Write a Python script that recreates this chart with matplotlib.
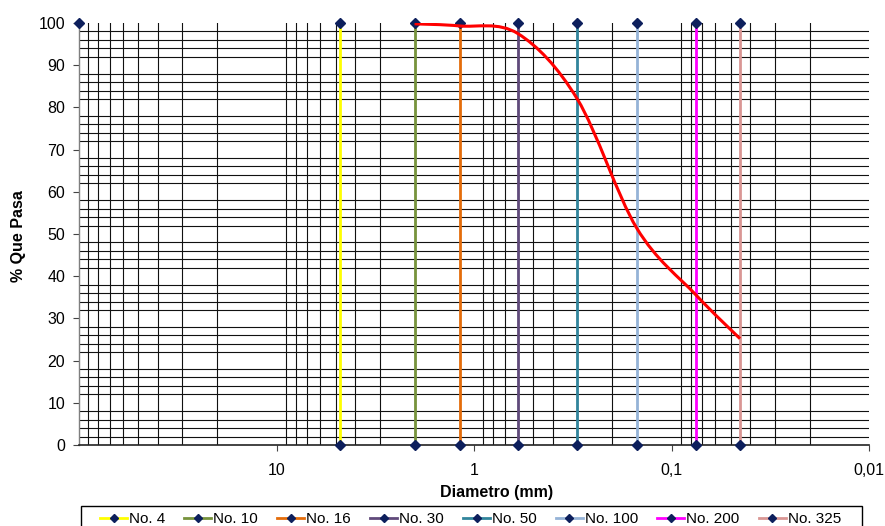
import numpy as np
import matplotlib
matplotlib.use("Agg")
import matplotlib.pyplot as plt
from matplotlib.path import Path
from matplotlib.patches import PathPatch, Rectangle
from matplotlib.ticker import FixedLocator, NullFormatter

plt.rcParams['font.family'] = ['Liberation Sans', 'DejaVu Sans']

# Sieve openings (mm) and their names
sieve_names = ["No. 4", "No. 10", "No. 16", "No. 30", "No. 50", "No. 100", "No. 200", "No. 325"]
sieve_sizes = [4.75, 2.0, 1.18, 0.6, 0.3, 0.15, 0.075, 0.045]
sieve_colors = ["#FFFF00", "#77933C", "#E46C0A", "#604A7B", "#31859C", "#95B3D7", "#FF00FF", "#D99694"]

# Grain size distribution (% passing)
curve_diam = [2.0, 1.18, 0.6, 0.3, 0.15, 0.075, 0.045]
curve_pass = [99.8, 99.3, 97.5, 82.0, 51.4, 35.5, 25.2]

# Isolated reference point
ref_diam = [100]
ref_pass = [100]

x_tick_vals = [10, 1, 0.1, 0.01]
x_tick_text = ["10", "1", "0,1", "0,01"]
y_tick_vals = list(range(0, 101, 10))

marker_color = "#0D1F5C"

fig = plt.figure(figsize=(8.85, 5.26), dpi=100)
ax = fig.add_axes([79 / 885, 1 - 445 / 526, (869 - 79) / 885, (445 - 23) / 526])

ax.set_xscale('log')
ax.set_xlim(100, 0.01)
ax.set_ylim(0, 100)

# grid positions: every 2 % and every log sub-decade, edges excluded
grid_x = [k * 10.0 ** e for e in range(-2, 2) for k in range(1, 10)]
grid_x = [g for g in grid_x if 0.01 < g < 100]
ax.xaxis.set_major_locator(FixedLocator(x_tick_vals))
ax.set_xticklabels(x_tick_text)
ax.xaxis.set_minor_locator(FixedLocator(grid_x))
ax.xaxis.set_minor_formatter(NullFormatter())
ax.yaxis.set_major_locator(FixedLocator(y_tick_vals))
ax.yaxis.set_minor_locator(FixedLocator(list(range(2, 100, 2))))

ax.grid(False, which='major')
ax.grid(True, which='minor', color='#111111', linewidth=0.8)
ax.tick_params(which='minor', length=0)
ax.tick_params(which='major', length=4, width=0.8, color='#444444', labelsize=11.5, direction='out')
ax.tick_params(axis='y', pad=6)
ax.tick_params(axis='x', pad=9)
ax.set_axisbelow(True)

for s in ['top', 'right']:
    ax.spines[s].set_visible(False)
ax.spines['left'].set_color('#7f7f7f')
ax.spines['bottom'].set_color('#222222')
ax.spines['left'].set_linewidth(1.0)
ax.spines['bottom'].set_linewidth(1.2)

# sieve lines
handles = []
for name, d, c in zip(sieve_names, sieve_sizes, sieve_colors):
    h, = ax.plot([d, d], [0, 100], color=c, linewidth=2.0, marker='D',
                 markersize=5.5, markerfacecolor=marker_color, markeredgecolor=marker_color,
                 clip_on=False, zorder=3, label=name)
    handles.append(h)

ax.plot(ref_diam, ref_pass, linestyle='none', marker='D', markersize=5.5,
        color=marker_color, clip_on=False, zorder=4)

# smoothed grading curve: cubic Bezier segments in log-diameter space
lx = np.log10(curve_diam)
py = np.array(curve_pass, dtype=float)
n = len(lx)
verts = [(curve_diam[0], curve_pass[0])]
codes = [Path.MOVETO]
for i in range(n - 1):
    i0 = max(i - 1, 0)
    i3 = min(i + 2, n - 1)
    c1x = lx[i] + (lx[i + 1] - lx[i0]) / 6.0
    c1y = py[i] + (py[i + 1] - py[i0]) / 6.0
    c2x = lx[i + 1] - (lx[i3] - lx[i]) / 6.0
    c2y = py[i + 1] - (py[i3] - py[i]) / 6.0
    verts += [(10 ** c1x, c1y), (10 ** c2x, c2y), (curve_diam[i + 1], curve_pass[i + 1])]
    codes += [Path.CURVE4] * 3
ax.add_patch(PathPatch(Path(verts, codes), facecolor='none', edgecolor='#FF0000',
                       linewidth=2.2, zorder=5, transform=ax.transData))

fig.text(19 / 885, 1 - 236 / 526, "% Que Pasa", rotation=90, fontsize=11.5,
         fontweight='bold', ha='center', va='center')
fig.text(497 / 885, 1 - 493 / 526, "Diametro (mm)", fontsize=11.5,
         fontweight='bold', ha='center', va='center')

# legend box frame, running past the lower edge of the figure
fig.patches.append(Rectangle((80.5 / 885, -0.05), (862 - 80.5) / 885, 0.05 + 1 - 506 / 526,
                             transform=fig.transFigure, facecolor='white',
                             edgecolor='#000000', linewidth=1.0, zorder=0))

leg = fig.legend(handles=handles, loc='center left', bbox_to_anchor=(100 / 885, 1 - 519 / 526),
                 ncol=8, frameon=False, fontsize=11,
                 handlelength=1.77, handletextpad=0.13, columnspacing=1.25,
                 borderpad=0, borderaxespad=0)
for lh in leg.legend_handles:
    lh.set_markersize(4.2)

fig.savefig("out.png", dpi=100)
